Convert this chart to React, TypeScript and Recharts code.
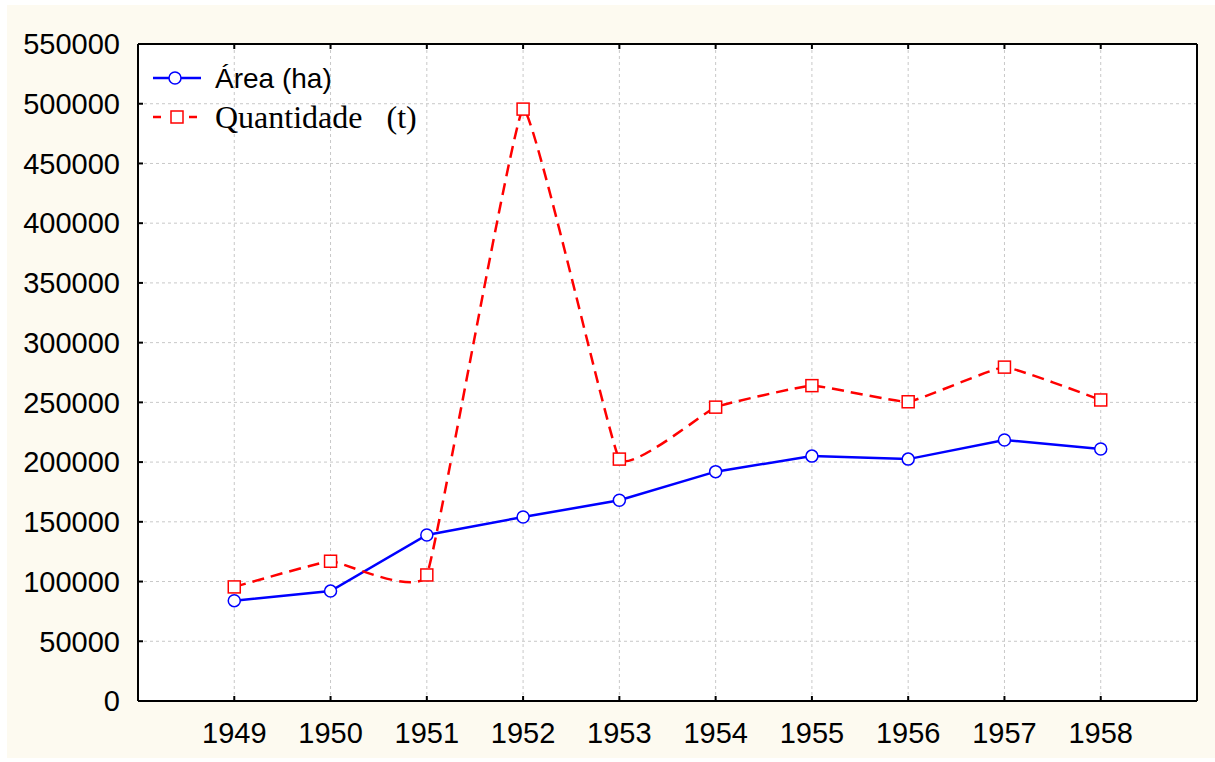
import React from 'react';
import { LineChart, Line, XAxis, YAxis, CartesianGrid, Legend } from 'recharts';

// anos e valores
const years = [1949, 1950, 1951, 1952, 1953, 1954, 1955, 1956, 1957, 1958];
const area = [84000, 92000, 139000, 154000, 168000, 192000, 205000, 202500, 218500, 211000];
const quantidade = [95500, 117000, 105500, 495500, 202500, 246000, 264000, 250500, 279500, 252000];
const yTicks = [0, 50000, 100000, 150000, 200000, 250000, 300000, 350000, 400000, 450000, 500000, 550000];
const areaLabel = 'Área (ha)';
const qtdLabel = 'Quantidade   (t)';

const data = years.map((year, i) => ({ year, area: area[i], quantidade: quantidade[i] }));

const sans = '"Liberation Sans", Arial, sans-serif';
const serif = '"Liberation Serif", "Times New Roman", serif';
const BLUE = '#0000ff';
const RED = '#ff0000';

// spline cardinal bem suave (curva do STATISTICA)
const cardinal = (tension: number) => (context: any) => {
  let pts: number[][] = [];
  const k = (1 - tension) / 6;
  return {
    areaStart() {},
    areaEnd() {},
    lineStart() {
      pts = [];
    },
    point(x: number, y: number) {
      pts.push([+x, +y]);
    },
    lineEnd() {
      const n = pts.length;
      if (!n) return;
      context.moveTo(pts[0][0], pts[0][1]);
      if (n === 2) {
        context.lineTo(pts[1][0], pts[1][1]);
        return;
      }
      for (let i = 0; i < n - 1; i++) {
        const p0 = pts[Math.max(i - 1, 0)];
        const p1 = pts[i];
        const p2 = pts[i + 1];
        const p3 = pts[Math.min(i + 2, n - 1)];
        context.bezierCurveTo(
          p1[0] + k * (p2[0] - p0[0]),
          p1[1] + k * (p2[1] - p0[1]),
          p2[0] - k * (p3[0] - p1[0]),
          p2[1] - k * (p3[1] - p1[1]),
          p2[0],
          p2[1]
        );
      }
    },
  };
};

const SquareDot = (props: any) => {
  const { cx, cy, index } = props;
  if (cx == null || cy == null) return <g key={index} />;
  return (
    <rect key={index} x={cx - 6} y={cy - 6} width={12} height={12} fill="#fff" stroke={RED} strokeWidth={1.5} />
  );
};

const renderLegend = () => (
  <svg width={290} height={85} style={{ display: 'block' }}>
    <line x1={8} y1={23} x2={56} y2={23} stroke={BLUE} strokeWidth={2.5} />
    <circle cx={30} cy={23} r={6} fill="#fff" stroke={BLUE} strokeWidth={1.5} />
    <text x={70} y={33} fontFamily={sans} fontSize={28} fill="#000">
      {areaLabel}
    </text>
    <line x1={8} y1={62} x2={56} y2={62} stroke={RED} strokeWidth={2.5} strokeDasharray="8 10" />
    <rect x={26} y={56} width={12} height={12} fill="#fff" stroke={RED} strokeWidth={1.5} />
    <text x={70} y={73} fontFamily={serif} fontSize={32} fill="#000" style={{ whiteSpace: 'pre' }}>
      {qtdLabel}
    </text>
  </svg>
);

const axisStroke = { stroke: '#000', strokeWidth: 2 };
const emptyTick = () => <g />;

export default function App() {
  return (
    <div style={{ position: 'absolute', left: 0, top: 0, width: 1215, height: 762, background: '#fff' }}>
      <div style={{ position: 'absolute', left: 7, top: 5, width: 1208, height: 753, background: '#fdfaf0' }} />
      <div style={{ position: 'absolute', left: 0, top: 0 }}>
        <LineChart width={1215} height={762} data={data} margin={{ top: 43, right: 17, bottom: 0, left: 0 }}>
          <CartesianGrid xAxisId="bottom" yAxisId="left" fill="#fff" stroke="#c8c8c8" strokeDasharray="3 3" />
          <XAxis
            xAxisId="bottom"
            dataKey="year"
            type="number"
            domain={[1948, 1959]}
            ticks={years}
            allowDataOverflow
            height={61}
            tickSize={-5}
            tickMargin={26}
            axisLine={axisStroke}
            tickLine={axisStroke}
            tick={{ fill: '#000', fontSize: 29, fontFamily: sans }}
          />
          <XAxis
            xAxisId="top"
            orientation="top"
            dataKey="year"
            type="number"
            domain={[1948, 1959]}
            ticks={years}
            allowDataOverflow
            height={1}
            tickSize={-5}
            axisLine={axisStroke}
            tickLine={axisStroke}
            tick={emptyTick}
          />
          <YAxis
            yAxisId="left"
            domain={[0, 550000]}
            ticks={yTicks}
            width={138}
            tickSize={-5}
            tickMargin={23}
            axisLine={axisStroke}
            tickLine={axisStroke}
            tick={{ fill: '#000', fontSize: 29, fontFamily: sans }}
          />
          <YAxis
            yAxisId="right"
            orientation="right"
            domain={[0, 550000]}
            ticks={yTicks}
            width={1}
            tickSize={-5}
            axisLine={axisStroke}
            tickLine={axisStroke}
            tick={emptyTick}
          />
          <Legend
            layout="horizontal"
            verticalAlign="middle"
            align="center"
            content={renderLegend}
            wrapperStyle={{ left: 145, top: 55, width: 290, height: 85 }}
          />
          <Line
            xAxisId="bottom"
            yAxisId="left"
            dataKey="area"
            name={areaLabel}
            type="linear"
            stroke={BLUE}
            strokeWidth={2.5}
            dot={{ r: 6, fill: '#fff', stroke: BLUE, strokeWidth: 1.5 }}
            activeDot={false}
            isAnimationActive={false}
          />
          <Line
            xAxisId="bottom"
            yAxisId="left"
            dataKey="quantidade"
            name={qtdLabel}
            type={cardinal(0.7) as any}
            stroke={RED}
            strokeWidth={2.5}
            strokeDasharray="12 7"
            dot={SquareDot}
            activeDot={false}
            isAnimationActive={false}
          />
        </LineChart>
      </div>
    </div>
  );
}
